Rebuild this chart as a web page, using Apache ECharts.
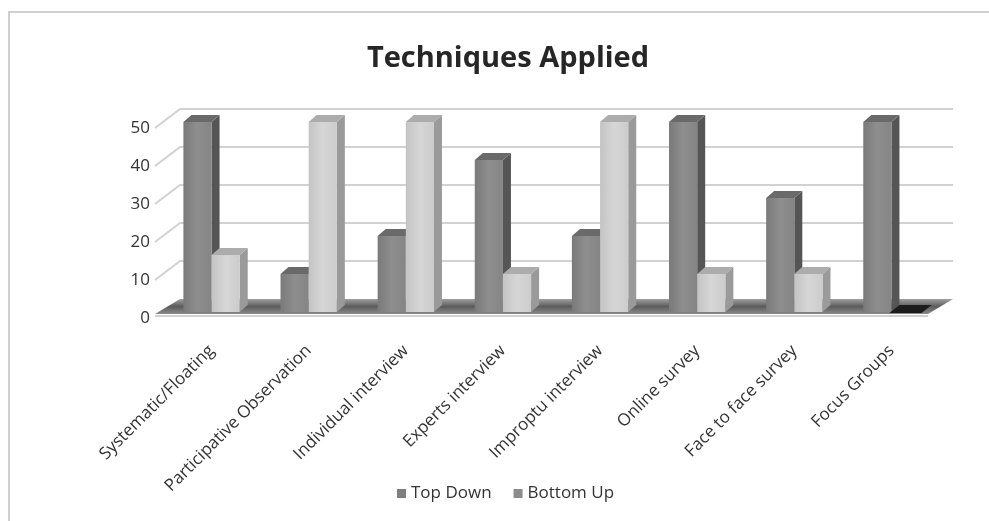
<!DOCTYPE html>
<html>
<head>
<meta charset="utf-8">
<script src="https://cdn.jsdelivr.net/npm/echarts@6/dist/echarts.min.js"></script>
<style>
  html, body { margin: 0; padding: 0; background: #fff; }
  #chart { width: 989px; height: 521px; }
</style>
</head>
<body>
<div id="chart"></div>
<script>
const categories = ['Systematic/Floating', 'Participative Observation', 'Individual interview', 'Experts interview',
  'Improptu interview', 'Online survey', 'Face to face survey', 'Focus Groups']
const topDown = [50, 10, 20, 40, 20, 50, 30, 50]
const bottomUp = [15, 50, 50, 10, 50, 10, 10, 0]
const yTicks = [10, 20, 30, 40, 50]

// 3d look: depth offset of the back wall
const DX = 25
const DY = 19
// bar depth
const BDX = 8
const BDY = 7

const chart = echarts.init(document.getElementById('chart'))

function bar3d(side, front, sideCol, topCol) {
  return function(params, api) {
    const cat = api.value(0)
    const v = api.value(1)
    const base = api.coord([cat, 0])
    const top = api.coord([cat, v])
    const bw = api.size([1, 0])[0] * 0.29
    const x0 = side === 0 ? base[0] - bw : base[0]
    const x1 = x0 + bw
    if (v === 0) {
      // flat slab for zero value
      return {
        type: 'polygon',
        shape: { points: [[x0 - 2, base[1] + 1], [x1 + 2, base[1] + 1], [x1 + BDX + 4, base[1] - BDY], [x0 + BDX, base[1] - BDY]] },
        style: { fill: '#1c1c1c' }
      }
    }
    return {
      type: 'group',
      children: [
        {
          type: 'polygon',
          shape: { points: [[x1, top[1]], [x1 + BDX, top[1] - BDY], [x1 + BDX, base[1] - BDY], [x1, base[1]]] },
          style: { fill: sideCol }
        },
        {
          type: 'polygon',
          shape: { points: [[x0, top[1]], [x1, top[1]], [x1 + BDX, top[1] - BDY], [x0 + BDX, top[1] - BDY]] },
          style: { fill: topCol }
        },
        {
          type: 'rect',
          shape: { x: x0, y: top[1], width: bw, height: base[1] - top[1] },
          style: { fill: front }
        }
      ]
    }
  }
}

chart.setOption({
  backgroundColor: '#fff',
  animation: false,
  title: {
    text: 'Techniques Applied',
    left: 503,
    textAlign: 'center',
    top: 39,
    textStyle: {
      fontFamily: 'Open Sans',
      fontWeight: 'bold',
      fontSize: 29,
      color: '#262626'
    }
  },
  legend: {
    bottom: 14,
    left: 392,
    icon: 'rect',
    itemWidth: 9,
    itemHeight: 9,
    itemGap: 22,
    textStyle: { fontFamily: 'Open Sans', fontSize: 17, color: '#333' },
    data: ['Top Down', 'Bottom Up']
  },
  graphic: [
    {
      type: 'polyline',
      shape: { points: [[9, 530], [9, 12], [995, 12]] },
      style: { stroke: '#d0d0d0', lineWidth: 2, fill: null },
      silent: true
    }
  ],
  grid: {
    left: 163,
    right: 49,
    top: 122,
    bottom: 209
  },
  xAxis: {
    type: 'category',
    data: categories,
    axisLine: { show: false },
    axisTick: { show: false },
    axisLabel: {
      rotate: 45,
      margin: 36,
      interval: 0,
      fontFamily: 'Open Sans',
      fontSize: 17,
      color: '#333'
    }
  },
  yAxis: {
    type: 'value',
    min: 0,
    max: 50,
    interval: 10,
    axisLine: { show: false },
    axisTick: { show: false },
    splitLine: { show: false },
    axisLabel: {
      margin: 13,
      verticalAlign: 'top',
      lineHeight: 13,
      fontFamily: 'Open Sans',
      fontSize: 17,
      color: '#333'
    }
  },
  series: [
    {
      // back wall gridlines
      type: 'custom',
      silent: true,
      z: 1,
      data: yTicks.map(v => [0, v]),
      renderItem: function(params, api) {
        const cs = params.coordSys
        const y = api.coord([0, api.value(1)])[1]
        return {
          type: 'polyline',
          shape: { points: [[cs.x - 8, y + 6], [cs.x + DX - 8, y + 6 - DY], [cs.x + cs.width + 13, y + 6 - DY]] },
          style: { stroke: '#d2d2d2', lineWidth: 2, fill: null }
        }
      }
    },
    {
      // floor
      type: 'custom',
      silent: true,
      z: 2,
      data: [[0, 0]],
      renderItem: function(params, api) {
        const cs = params.coordSys
        const y = api.coord([0, 0])[1]
        return {
          type: 'group',
          children: [
            {
              type: 'polygon',
              shape: { points: [[cs.x - 8, y + 2], [cs.x + cs.width - 12, y + 2], [cs.x + cs.width + 13, y - 13], [cs.x + 17, y - 13]] },
              style: {
                fill: new echarts.graphic.LinearGradient(0, 0, 0, 1, [
                  { offset: 0, color: '#a0a0a0' },
                  { offset: 0.5, color: '#5c5c5c' },
                  { offset: 1, color: '#8a8a8a' }
                ])
              }
            },
            {
              type: 'line',
              shape: { x1: cs.x - 8, y1: y + 4, x2: cs.x + cs.width - 12, y2: y + 4 },
              style: { stroke: '#d0d0d0', lineWidth: 2 }
            }
          ]
        }
      }
    },
    {
      name: 'Top Down',
      type: 'custom',
      z: 3,
      itemStyle: { color: '#7f7f7f' },
      data: topDown.map((v, i) => [i, v]),
      renderItem: bar3d(0,
        new echarts.graphic.LinearGradient(0, 0, 1, 0, [
          { offset: 0, color: '#7a7a7a' },
          { offset: 0.5, color: '#8e8e8e' },
          { offset: 1, color: '#858585' }
        ]), '#555555', '#6a6a6a')
    },
    {
      name: 'Bottom Up',
      type: 'custom',
      z: 3,
      itemStyle: { color: '#8c8c8c' },
      data: bottomUp.map((v, i) => [i, v]),
      renderItem: bar3d(1,
        new echarts.graphic.LinearGradient(0, 0, 1, 0, [
          { offset: 0, color: '#c4c4c4' },
          { offset: 0.5, color: '#d6d6d6' },
          { offset: 1, color: '#cccccc' }
        ]), '#9a9a9a', '#acacac')
    }
  ]
})
</script>
</body>
</html>
